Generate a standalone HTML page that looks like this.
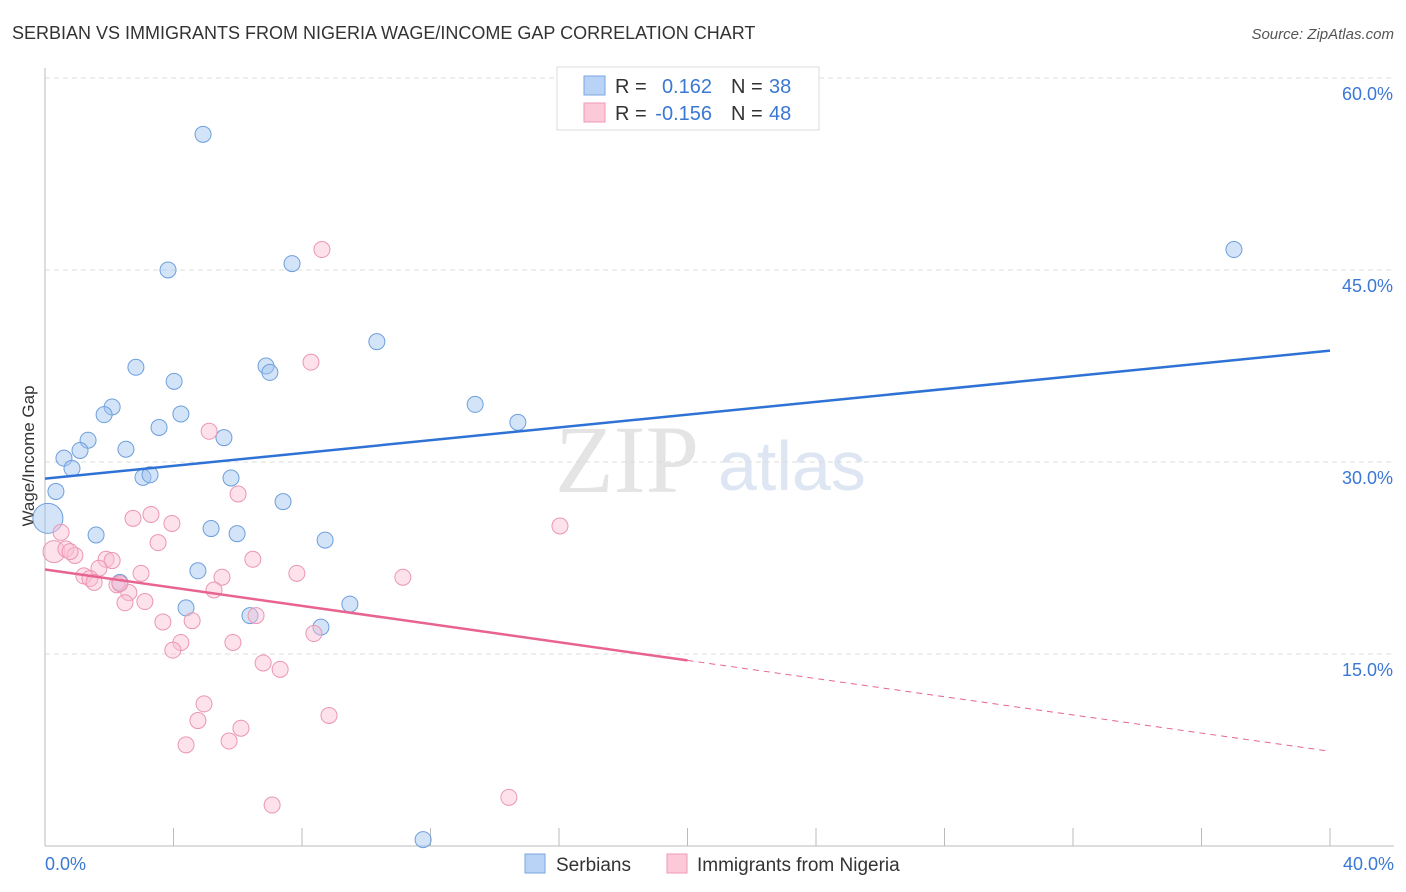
<!DOCTYPE html>
<html><head><meta charset="utf-8"><style>
body{margin:0;background:#fff;font-family:"Liberation Sans",sans-serif;}
svg{display:block}
</style></head><body>
<svg id="c" width="1406" height="892" xmlns="http://www.w3.org/2000/svg">
<text x="12" y="39" font-size="18" fill="#333">SERBIAN VS IMMIGRANTS FROM NIGERIA WAGE/INCOME GAP CORRELATION CHART</text>
<text x="1394" y="39" font-size="15" fill="#555" font-style="italic" text-anchor="end">Source: ZipAtlas.com</text>
<text x="34" y="456" font-size="17" fill="#333" text-anchor="middle" transform="rotate(-90 34 456)">Wage/Income Gap</text>
<text x="555" y="492" font-size="96" fill="#e4e4e4" font-family="Liberation Serif,serif">ZIP</text>
<text x="718" y="490" font-size="70" fill="#dde6f2">atlas</text>
<g id="grid"></g><g id="pts"></g><g id="lines"></g>
<g>
<rect x="557" y="67" width="262" height="63" fill="#fff" stroke="#ddd"/>
<rect x="584" y="76" width="21" height="19" fill="#b8d3f5" stroke="#7aa7e0"/>
<rect x="584" y="103" width="21" height="19" fill="#fcc9d8" stroke="#ef9ab5"/>
<text x="615" y="93" font-size="20" fill="#333">R = </text><text x="712" y="93" font-size="20" fill="#3a78d4" text-anchor="end">0.162</text>
<text x="731" y="93" font-size="20" fill="#333">N = </text><text x="769" y="93" font-size="20" fill="#3a78d4">38</text>
<text x="615" y="120" font-size="20" fill="#333">R = </text><text x="712" y="120" font-size="20" fill="#3a78d4" text-anchor="end">-0.156</text>
<text x="731" y="120" font-size="20" fill="#333">N = </text><text x="769" y="120" font-size="20" fill="#3a78d4">48</text>
</g>
<g>
<rect x="525" y="854" width="20" height="19" fill="#b8d3f5" stroke="#7aa7e0"/>
<text x="556" y="871" font-size="19" fill="#333">Serbians</text>
<rect x="667" y="854" width="20" height="19" fill="#fcc9d8" stroke="#ef9ab5"/>
<text x="697" y="871" font-size="19" fill="#333">Immigrants from Nigeria</text>
</g>
</svg>
<script>
const yTicks=[15,30,45,60];
const yTickLabels=["15.0%","30.0%","45.0%","60.0%"];
const xTickVals=[0,4,8,12,16,20,24,28,32,36,40];
const serbX=[4.92,3.83,7.69,37.01,10.33,2.83,6.88,7.00,4.02,13.39,2.09,1.84,4.23,14.72,3.55,1.34,5.57,1.09,2.52,0.59,0.84,3.05,3.27,5.79,0.34,7.41,0.09,5.17,1.59,5.98,8.72,4.76,2.33,4.39,9.49,6.38,8.59,11.77];
const serbY=[55.6,45.0,45.5,46.6,39.4,37.4,37.5,37.0,36.3,34.5,34.3,33.7,33.75,33.1,32.7,31.7,31.9,30.9,31.0,30.3,29.5,28.8,29.0,28.75,27.7,26.9,25.6,24.8,24.3,24.4,23.9,21.5,20.6,18.6,18.9,18.0,17.1,0.5];
const nigX=[8.62,8.28,5.11,6.01,16.03,2.74,3.30,3.95,3.52,0.50,0.28,0.65,0.93,1.90,2.09,1.68,2.99,1.21,1.40,1.53,2.24,5.51,7.84,11.14,6.47,2.61,5.26,3.11,2.49,3.67,4.58,6.57,4.23,3.98,8.37,5.85,6.79,7.32,4.95,4.76,8.84,6.10,4.39,5.73,7.07,14.44,2.33,0.78];
const nigY=[46.6,37.8,32.4,27.5,25.0,25.6,25.9,25.2,23.7,24.5,23.0,23.2,22.7,22.4,22.3,21.7,21.3,21.1,20.9,20.6,20.4,21.0,21.3,21.0,22.4,19.8,20.0,19.1,19.0,17.5,17.6,18.0,15.9,15.3,16.6,15.9,14.3,13.8,11.1,9.8,10.2,9.2,7.9,8.2,3.2,3.8,20.5,23.0];
const serbTrend=[28.7,38.7];
const nigTrend=[21.6,7.4];
const NS="http://www.w3.org/2000/svg";
const X=v=>45+v/40*1285, Y=v=>846-v*12.8;
function mk(t,a,p){const e=document.createElementNS(NS,t);for(const k in a)e.setAttribute(k,a[k]);p.appendChild(e);return e;}
const g=document.getElementById('grid');
yTicks.forEach((t,i)=>{
 const l=mk('line',{x1:45,x2:1394,y1:Y(t),y2:Y(t),stroke:'#ddd','stroke-dasharray':'5,4'},g);
 
 
 const tx=mk('text',{x:1393,y:Y(t)+22,'font-size':18,fill:'#3a78d4','text-anchor':'end'},g);tx.textContent=yTickLabels[i];
 
 
});
mk('line',{x1:45,x2:1394,y1:Y(60)+0,y2:Y(60),stroke:'#ddd','stroke-dasharray':'5,4'},g);
mk('line',{x1:45,x2:45,y1:68,y2:846,stroke:'#bbb'},g);
mk('line',{x1:45,x2:1394,y1:846,y2:846,stroke:'#bbb'},g);
xTickVals.forEach(t=>{const l=mk('line',{x1:X(t),x2:X(t),y1:828,y2:846,stroke:'#bbb'},g);
 
 });
let a=mk('text',{x:45,y:870,'font-size':18,fill:'#3a78d4'},g);a.textContent='0.0%';


a=mk('text',{x:1394,y:870,'font-size':18,fill:'#3a78d4','text-anchor':'end'},g);a.textContent='40.0%';


const p=document.getElementById('pts');
serbX.forEach((v,i)=>{const c=mk('circle',{cx:X(v),cy:Y(serbY[i]),r:i==26?15:8,fill:'rgba(160,196,240,0.45)',stroke:'#6d9fdc','stroke-width':1},p);
 
 });
nigX.forEach((v,i)=>{const c=mk('circle',{cx:X(v),cy:Y(nigY[i]),r:i==10?11:8,fill:'rgba(250,190,210,0.45)',stroke:'#eb96b2','stroke-width':1},p);
 
 });
const L=document.getElementById('lines');
let t=mk('line',{x1:X(0),y1:Y(serbTrend[0]),x2:X(40),y2:Y(serbTrend[1]),stroke:'#2f72d6','stroke-width':2.5},L);


const mid=nigTrend[0]+(nigTrend[1]-nigTrend[0])*0.5;
t=mk('line',{x1:X(0),y1:Y(nigTrend[0]),x2:X(20),y2:Y(mid),stroke:'#e8648f','stroke-width':2.5},L);


t=mk('line',{x1:X(20),y1:Y(mid),x2:X(40),y2:Y(nigTrend[1]),stroke:'#e8648f','stroke-width':1,'stroke-dasharray':'6,5'},L);


</script>
</body></html>
